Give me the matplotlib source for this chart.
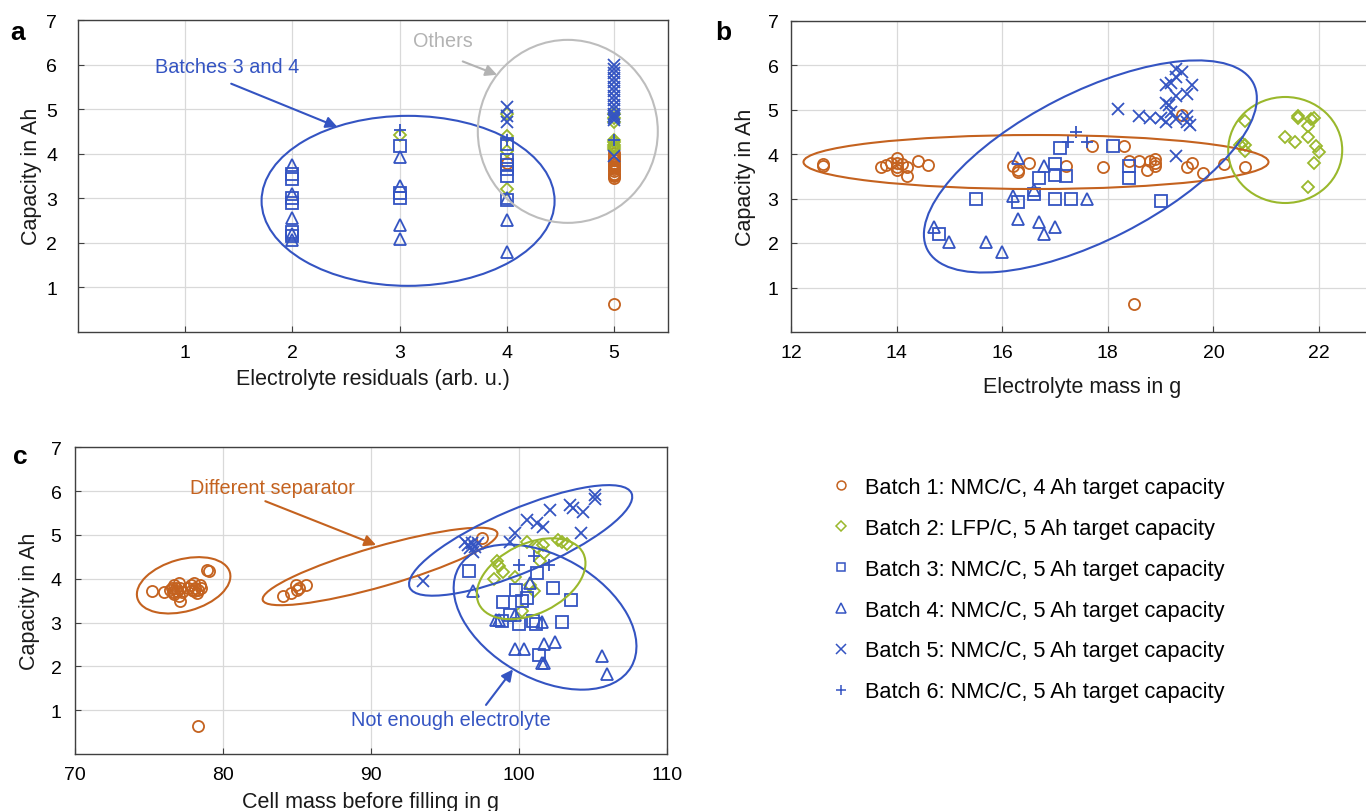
import matplotlib
matplotlib.use('Agg')
import matplotlib.pyplot as plt
from matplotlib.patches import Ellipse
from matplotlib.lines import Line2D
from matplotlib.transforms import ScaledTranslation

plt.rcParams['font.family'] = ['Liberation Sans', 'DejaVu Sans']

W, H, DPI = 1366, 812, 100

ORANGE = '#C4621F'
GREEN = '#9AB82C'
BLUE = '#3454C2'
GREY = '#BDBDBD'

# ── data ────────────────────────────────────────────────────────────────────
batch_labels = [
    'Batch 1: NMC/C, 4 Ah target capacity',
    'Batch 2: LFP/C, 5 Ah target capacity',
    'Batch 3: NMC/C, 5 Ah target capacity',
    'Batch 4: NMC/C, 5 Ah target capacity',
    'Batch 5: NMC/C, 5 Ah target capacity',
    'Batch 6: NMC/C, 5 Ah target capacity',
]

# panel a: electrolyte residuals (arb. u.) vs capacity
a_b1_x = [4] + [5] * 14
a_b1_y = [3.78, 4.02, 3.95, 3.9, 3.85, 3.8, 3.75, 3.7, 3.65, 3.6, 3.55, 3.5, 3.45, 3.52, 0.62]
a_b2_x = [3, 4, 4, 4, 4, 5, 5, 5, 5, 5, 5, 5, 5]
a_b2_y = [4.42, 4.9, 4.4, 4.05, 3.2, 4.9, 4.8, 4.7, 4.3, 4.25, 4.2, 4.15, 4.1]
a_b3_x = [2, 2, 2, 2, 2, 2, 3, 3, 3, 4, 4, 4, 4, 4, 4]
a_b3_y = [3.55, 3.42, 3.0, 2.9, 2.25, 2.15, 4.18, 3.12, 3.0, 4.22, 3.85, 3.75, 3.65, 3.5, 2.95]
a_b4_x = [2, 2, 2, 2, 2, 3, 3, 3, 3, 4, 4, 4]
a_b4_y = [3.75, 3.1, 2.55, 2.2, 2.05, 3.93, 3.28, 2.4, 2.08, 3.0, 2.5, 1.8]
a_b5_x = [4, 4, 4] + [5] * 16
a_b5_y = [5.05, 4.85, 4.72, 6.0, 5.9, 5.8, 5.7, 5.6, 5.5, 5.4, 5.3, 5.2, 5.1, 5.0,
          4.9, 4.85, 4.8, 4.75, 3.95]
a_b6_x = [3, 4, 5]
a_b6_y = [4.52, 4.3, 4.3]

# panel b: electrolyte mass in g vs capacity
b_b1_x = [12.6, 12.6, 13.7, 13.8, 13.9, 14.0, 14.0, 14.0, 14.0, 14.1, 14.2, 14.2, 14.4, 14.6,
          16.2, 16.3, 16.3, 16.5, 17.2, 17.7, 17.9, 18.3, 18.4, 18.6, 18.75, 18.8, 18.9, 18.9,
          18.9, 19.4, 19.5, 19.6, 19.8, 20.2, 20.6, 18.5]
b_b1_y = [3.78, 3.73, 3.7, 3.75, 3.8, 3.92, 3.8, 3.7, 3.65, 3.78, 3.7, 3.5, 3.85, 3.75,
          3.72, 3.65, 3.6, 3.8, 3.72, 4.17, 3.7, 4.17, 3.85, 3.85, 3.65, 3.85, 3.88, 3.8,
          3.72, 4.87, 3.7, 3.8, 3.57, 3.77, 3.7, 0.63]
b_b2_x = [20.5, 20.55, 20.6, 20.6, 20.6, 21.35, 21.55, 21.6, 21.6, 21.8, 21.8, 21.85, 21.9,
          21.95, 22.0, 21.9, 21.8]
b_b2_y = [4.2, 4.25, 4.75, 4.2, 4.07, 4.38, 4.28, 4.85, 4.82, 4.38, 4.62, 4.78, 4.8,
          4.18, 4.05, 3.8, 3.25]
b_b3_x = [14.8, 15.5, 16.3, 16.6, 16.7, 17.0, 17.0, 17.1, 17.2, 17.0, 17.3, 18.1, 18.4, 18.4, 19.0]
b_b3_y = [2.2, 3.0, 2.93, 3.1, 3.45, 3.78, 3.52, 4.13, 3.5, 3.0, 3.0, 4.17, 3.72, 3.45, 2.95]
b_b4_x = [14.7, 15.0, 15.7, 16.0, 16.3, 16.2, 16.3, 16.6, 16.8, 16.7, 16.8, 17.0, 17.6]
b_b4_y = [2.37, 2.02, 2.02, 1.8, 3.92, 3.05, 2.55, 3.2, 3.72, 2.48, 2.2, 2.37, 3.0]
b_b5_x = [18.2, 18.6, 18.8, 19.0, 19.1, 19.1, 19.15, 19.2, 19.3, 19.3, 19.4, 19.6, 19.5,
          19.3, 19.2, 19.1, 19.3, 19.5, 19.5, 19.55, 19.3]
b_b5_y = [5.02, 4.85, 4.8, 4.8, 5.15, 5.55, 5.1, 5.6, 5.72, 5.92, 5.85, 5.55, 5.35,
          5.3, 4.95, 4.72, 4.78, 4.85, 4.72, 4.65, 3.95]
b_b6_x = [17.4, 17.25, 17.6]
b_b6_y = [4.5, 4.27, 4.27]

# panel c: cell mass before filling in g vs capacity
c_b1_x = [75.2, 76.0, 76.4, 76.5, 76.6, 76.7, 76.7, 76.8, 76.9, 77.0, 77.0, 77.1, 77.1, 77.2,
          77.6, 77.8, 77.9, 78.0, 78.0, 78.1, 78.2, 78.3, 78.4, 78.5, 78.9, 79.0,
          84.0, 84.6, 84.9, 85.0, 85.1, 85.6, 97.5, 78.3]
c_b1_y = [3.72, 3.7, 3.75, 3.8, 3.7, 3.85, 3.65, 3.78, 3.72, 3.9, 3.6, 3.8, 3.5, 3.7,
          3.8, 3.85, 3.75, 3.72, 3.9, 3.8, 3.68, 3.75, 3.85, 3.78, 4.2, 4.17,
          3.6, 3.67, 3.85, 3.75, 3.8, 3.86, 4.92, 0.63]
c_b2_x = [98.5, 98.6, 98.3, 98.9, 99.7, 100.2, 100.5, 101.2, 101.6, 101.7, 101.4, 100.7,
          102.6, 102.9, 103.2, 101.0]
c_b2_y = [4.4, 4.28, 4.0, 4.15, 4.05, 3.26, 4.85, 4.72, 4.78, 4.58, 4.4, 3.86,
          4.89, 4.85, 4.8, 3.72]
c_b3_x = [96.6, 101.2, 102.3, 99.8, 98.9, 100.2, 100.5, 103.5, 99.4, 98.8, 100.0, 100.9,
          101.1, 102.9, 101.3]
c_b3_y = [4.18, 4.13, 3.79, 3.75, 3.46, 3.49, 3.56, 3.52, 3.18, 3.03, 2.96, 3.03,
          2.96, 3.01, 2.26]
c_b4_x = [96.9, 100.7, 98.6, 99.7, 101.5, 99.7, 100.3, 101.7, 102.4, 101.5, 101.7, 105.6,
          105.9, 98.4]
c_b4_y = [3.71, 3.9, 3.05, 3.18, 3.01, 2.39, 2.39, 2.5, 2.55, 2.08, 2.08, 2.23, 1.82, 3.05]
c_b5_x = [93.5, 96.3, 96.5, 96.8, 97.0, 97.2, 96.7, 99.4, 99.7, 100.5, 101.2, 101.6, 102.1,
          103.4, 103.6, 104.3, 104.2, 105.1, 105.1, 96.9]
c_b5_y = [3.94, 4.85, 4.77, 4.81, 4.73, 4.81, 4.7, 4.85, 5.04, 5.34, 5.27, 5.19, 5.57,
          5.68, 5.61, 5.53, 5.04, 5.91, 5.83, 4.6]
c_b6_x = [100.0, 101.0, 102.0]
c_b6_y = [4.32, 4.51, 4.32]

# marker style per batch: (marker, colour, size)
styles = [('o', ORANGE, 8.0), ('D', GREEN, 6.4), ('s', BLUE, 8.0),
          ('^', BLUE, 8.5), ('x', BLUE, 8.5), ('+', BLUE, 9.0)]

fig = plt.figure(figsize=(W / DPI, H / DPI), dpi=DPI)
fig.patch.set_facecolor('white')


def px_axes(l, t, r, b):
    return fig.add_axes([l / W, 1 - b / H, (r - l) / W, (b - t) / H])


def style_axes(ax, xlim, xticks, ypad):
    ax.set_xlim(*xlim)
    ax.set_ylim(0, 7)
    ax.set_xticks(xticks)
    ax.set_yticks(range(1, 8))
    ax.grid(True, color='#D9D9D9', lw=0.9)
    ax.set_axisbelow(True)
    for s in ax.spines.values():
        s.set_color('#404040')
        s.set_linewidth(1.0)
    ax.tick_params(axis='both', direction='in', length=4, width=0.8,
                   color='#404040', labelsize=14)
    ax.tick_params(axis='x', pad=9)
    ax.tick_params(axis='y', pad=ypad)


def scatter_batches(ax, xs, ys):
    for (m, c, ms), x, y in zip(styles, xs, ys):
        ax.plot(x, y, linestyle='none', marker=m, ms=ms, mfc='none',
                mec=c, mew=1.3, zorder=3)


def ring(ax, cx, cy, w_px, h_px, angle, color):
    tr = fig.dpi_scale_trans + ScaledTranslation(cx, cy, ax.transData)
    e = Ellipse((0, 0), w_px / DPI, h_px / DPI, angle=angle, transform=tr,
                fill=False, edgecolor=color, lw=1.5, zorder=4)
    ax.add_artist(e)


def arrow(ax, tail, head, color):
    ax.annotate('', xy=head, xytext=tail,
                arrowprops=dict(arrowstyle='-|>', color=color, lw=1.5,
                                mutation_scale=17, shrinkA=0, shrinkB=0), zorder=5)


# ── panel a ────────────────────────────────────────────────────────────────
ax_a = px_axes(77.9, 21.0, 667.5, 332.8)
style_axes(ax_a, (0, 5.5), [1, 2, 3, 4, 5], 15)
scatter_batches(ax_a, [a_b1_x, a_b2_x, a_b3_x, a_b4_x, a_b5_x, a_b6_x],
                [a_b1_y, a_b2_y, a_b3_y, a_b4_y, a_b5_y, a_b6_y])
ring(ax_a, 3.08, 2.94, 293, 170, 0, BLUE)
ring(ax_a, 4.57, 4.50, 180, 183, 0, GREY)
ax_a.text(1.395, 5.95, 'Batches 3 and 4', color=BLUE, fontsize=14.3,
          ha='center', va='center')
arrow(ax_a, (1.43, 5.57), (2.42, 4.60), BLUE)
ax_a.text(3.40, 6.54, 'Others', color='#B3B3B3', fontsize=14.3,
          ha='center', va='center')
arrow(ax_a, (3.59, 6.07), (3.91, 5.77), '#B3B3B3')

# ── panel b ────────────────────────────────────────────────────────────────
ax_b = px_axes(791, 21.5, 1371.8, 333)
style_axes(ax_b, (12, 23), [12, 14, 16, 18, 20, 22], 9)
scatter_batches(ax_b, [b_b1_x, b_b2_x, b_b3_x, b_b4_x, b_b5_x, b_b6_x],
                [b_b1_y, b_b2_y, b_b3_y, b_b4_y, b_b5_y, b_b6_y])
ring(ax_b, 16.64, 3.82, 465, 54, 0, ORANGE)
ring(ax_b, 21.36, 4.09, 114, 106, 0, GREEN)
ring(ax_b, 17.67, 3.72, 366, 148, 27, BLUE)

# ── panel c ────────────────────────────────────────────────────────────────
ax_c = px_axes(75.3, 448.3, 667.3, 755)
style_axes(ax_c, (70, 110), [70, 80, 90, 100, 110], 10)
scatter_batches(ax_c, [c_b1_x, c_b2_x, c_b3_x, c_b4_x, c_b5_x, c_b6_x],
                [c_b1_y, c_b2_y, c_b3_y, c_b4_y, c_b5_y, c_b6_y])
ring(ax_c, 77.32, 3.85, 96, 52, 15.6, ORANGE)
ring(ax_c, 90.59, 4.28, 244, 40, 16, ORANGE)
ring(ax_c, 100.09, 4.875, 241, 63, 23, BLUE)
ring(ax_c, 101.74, 3.125, 199, 122, -30, BLUE)
ring(ax_c, 100.8, 4.0, 116, 70, 26, GREEN)
ax_c.text(83.32, 6.09, 'Different separator', color=ORANGE, fontsize=14.3,
          ha='center', va='center')
arrow(ax_c, (82.84, 5.77), (90.32, 4.77), ORANGE)
ax_c.text(95.39, 0.78, 'Not enough electrolyte', color=BLUE, fontsize=14.3,
          ha='center', va='center')
arrow(ax_c, (97.75, 1.12), (99.57, 1.93), BLUE)

# ── axis titles and panel letters ───────────────────────────────────────────
def ftext(x, y, s, **kw):
    fig.text(x / W, 1 - y / H, s, **kw)


lab = dict(fontsize=15.5, ha='center', va='center', color='#1a1a1a')
ftext(31.7, 176.7, 'Capacity in Ah', rotation=90, **lab)
ftext(745.6, 177, 'Capacity in Ah', rotation=90, **lab)
ftext(29, 601.5, 'Capacity in Ah', rotation=90, **lab)
ftext(373, 380, 'Electrolyte residuals (arb. u.)', **lab)
ftext(1082, 388, 'Electrolyte mass in g', **lab)
ftext(371, 803, 'Cell mass before filling in g', **lab)

let = dict(fontsize=19, fontweight='bold', ha='center', va='center')
ftext(18, 33, 'a', **let)
ftext(723, 33, 'b', **let)
ftext(20, 457, 'c', **let)

# ── legend ──────────────────────────────────────────────────────────────────
handles = [Line2D([], [], linestyle='none', marker=m, ms=ms * 0.8, mfc='none',
                  mec=c, mew=1.1) for m, c, ms in styles]
fig.legend(handles, batch_labels, loc='upper left',
           bbox_to_anchor=(830 / W, 1 - 478 / H), frameon=False,
           fontsize=15.7, handlelength=1.0, handletextpad=0.62,
           labelspacing=0.91, borderpad=0, borderaxespad=0, numpoints=1)

fig.savefig('out.png', dpi=DPI, facecolor='white')
